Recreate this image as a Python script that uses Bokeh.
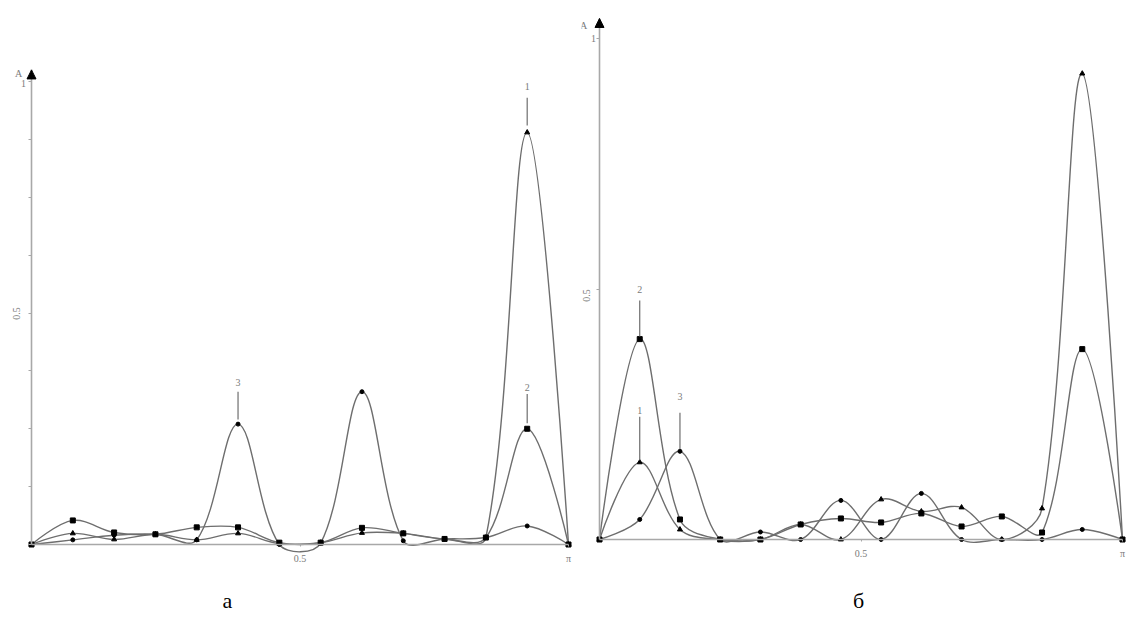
import numpy as np
from bokeh.plotting import figure
from bokeh.models import Range1d, FixedTicker, Label, Arrow, NormalHead
from bokeh.layouts import row
from bokeh.embed import file_html
from bokeh.resources import INLINE

# ---------------- data ----------------
n_nodes = 14
x_nodes = [i / 13 for i in range(n_nodes)]

# panel "а"
a_c1 = [0, 0.024, 0.011, 0.022, 0.010, 0.024, 0.002, 0.004, 0.025, 0.024, 0.012, 0.015, 0.89, 0]
a_c2 = [0, 0.052, 0.026, 0.022, 0.037, 0.037, 0.004, 0.004, 0.036, 0.024, 0.012, 0.015, 0.25, 0]
a_c3 = [0, 0.010, 0.020, 0.022, 0.010, 0.26, 0.0, 0.003, 0.33, 0.008, 0.012, 0.015, 0.04, 0]

# panel "б"
b_c1 = [0, 0.154, 0.02, 0.0, 0.0, 0.03, 0.0, 0.08, 0.056, 0.064, 0.0, 0.062, 0.93, 0]
b_c2 = [0, 0.40, 0.04, 0.0, 0.0, 0.03, 0.042, 0.034, 0.052, 0.026, 0.046, 0.014, 0.38, 0]
b_c3 = [0, 0.04, 0.176, 0.0, 0.015, 0.0, 0.078, 0.0, 0.092, 0.0, 0.0, 0.0, 0.02, 0]

# peak labels: (text, x, label y, line top, line bottom)
a_peaks = [("1", 12 / 13, 0.99, 0.965, 0.905),
           ("2", 12 / 13, 0.34, 0.325, 0.262),
           ("3", 5 / 13, 0.35, 0.33, 0.27)]
b_peaks = [("2", 1 / 13, 0.50, 0.477, 0.405),
           ("1", 1 / 13, 0.258, 0.245, 0.158),
           ("3", 2 / 13, 0.285, 0.253, 0.18)]

x_tick_labels = {0.5: "0.5", 1: "π"}
a_minor_ticks = [i * 0.125 for i in range(9)]
b_minor_ticks = [0.5, 1.0]

LINE = "#6e6e6e"
AXIS = "#a8a8a8"
TXT = "#7a7a7a"
SERIF = "Liberation Serif"


def smooth_segments(xs, ys, sx, sy, t=0.35):
    X = np.asarray(xs, float) * sx
    Y = np.asarray(ys, float) * sy
    n = len(X)
    cin = np.column_stack([X, Y]).copy()
    cout = np.column_stack([X, Y]).copy()
    for i in range(1, n - 1):
        d01 = np.hypot(X[i] - X[i - 1], Y[i] - Y[i - 1])
        d12 = np.hypot(X[i + 1] - X[i], Y[i + 1] - Y[i])
        fa = t * d01 / (d01 + d12)
        fb = t * d12 / (d01 + d12)
        dx, dy = X[i + 1] - X[i - 1], Y[i + 1] - Y[i - 1]
        cin[i] = (X[i] - fa * dx, Y[i] - fa * dy)
        cout[i] = (X[i] + fb * dx, Y[i] + fb * dy)
    return dict(x0=X[:-1] / sx, y0=Y[:-1] / sy, x1=X[1:] / sx, y1=Y[1:] / sy,
                cx0=cout[:-1, 0] / sx, cy0=cout[:-1, 1] / sy,
                cx1=cin[1:, 0] / sx, cy1=cin[1:, 1] / sy)


def make_panel(fig_left_pg, width, border_left, x0_pg, x1_pg, y0_pg, y1_pg,
               series, peaks, minor_ticks, arrow_top, texts, caption):
    height = 621
    frame_left_pg = fig_left_pg + border_left
    frame_right_pg = fig_left_pg + width
    top_pg, bottom_pg = 0, height
    sx = x1_pg - x0_pg
    sy = y0_pg - y1_pg
    xr = Range1d((frame_left_pg - x0_pg) / sx, (frame_right_pg - x0_pg) / sx)
    yr = Range1d(-(bottom_pg - y0_pg) / sy, (y0_pg - top_pg) / sy)
    p = figure(width=width, height=height, x_range=xr, y_range=yr,
               output_backend="svg", toolbar_location=None,
               min_border_left=border_left, min_border_right=0,
               min_border_top=0, min_border_bottom=0)
    p.outline_line_color = None
    p.grid.visible = False
    p.background_fill_color = "white"
    p.border_fill_color = "white"

    xa = p.xaxis[0]
    ya = p.yaxis[0]
    xa.fixed_location = 0
    ya.fixed_location = 0
    xa.bounds = (0, 1)
    ya.bounds = (0, arrow_top)
    for ax in (xa, ya):
        ax.axis_line_color = AXIS
        ax.axis_line_width = 1.6
        ax.major_tick_line_color = AXIS
        ax.minor_tick_line_color = AXIS
    xa.ticker = FixedTicker(ticks=[0.5, 1])
    xa.major_label_overrides = x_tick_labels
    xa.major_tick_in = 0
    xa.major_tick_out = 2
    xa.major_label_standoff = 6
    xa.major_label_text_font = SERIF
    xa.major_label_text_font_size = "10px"
    xa.major_label_text_color = TXT
    xa.minor_tick_out = 0
    ya.ticker = FixedTicker(ticks=[], minor_ticks=minor_ticks)
    ya.minor_tick_in = 0
    ya.minor_tick_out = 3
    ya.minor_tick_line_width = 1.2

    markers = ["triangle", "square", "circle"]
    msize = [5, 5, 4]
    for ys in series:
        seg = smooth_segments(x_nodes, ys, sx, sy)
        p.bezier(source=seg, x0="x0", y0="y0", x1="x1", y1="y1",
                 cx0="cx0", cy0="cy0", cx1="cx1", cy1="cy1",
                 line_color=LINE, line_width=1.4)
    for k, ys in enumerate(series):
        p.scatter(x_nodes, ys, marker=markers[k], size=msize[k],
                  fill_color="black", line_color="black")

    for txt, px, ly, lt, lb in peaks:
        p.segment(x0=[px], y0=[lt], x1=[px], y1=[lb], line_color=LINE, line_width=1.2)
        p.add_layout(Label(x=px, y=ly, text=txt, text_font=SERIF, text_font_size="10px",
                           text_color=TXT, text_align="center", text_baseline="middle"))

    p.add_layout(Arrow(end=NormalHead(size=9, fill_color="black", line_color="black"),
                       x_start=0, y_start=arrow_top - 0.05, x_end=0, y_end=arrow_top,
                       line_alpha=0))

    for txt, px, py, ang in texts:
        p.add_layout(Label(x=(px - x0_pg) / sx, y=(y0_pg - py) / sy, text=txt,
                           text_font=SERIF, text_font_size="10px", text_color=TXT,
                           text_align="center", text_baseline="middle", angle=ang))

    cap, cx, cy = caption
    p.add_layout(Label(x=(cx - x0_pg) / sx, y=(y0_pg - cy) / sy, text=cap,
                       text_font=SERIF, text_font_size="22px", text_color="black",
                       text_align="center", text_baseline="middle"))
    return p


pa = make_panel(0, 576, 5, 31, 568, 544, 81, [a_c1, a_c2, a_c3], a_peaks,
                a_minor_ticks, 1.025,
                [("A", 18, 73, 0), ("1", 23, 83, 0), ("0.5", 16, 313, np.pi / 2)],
                ("а", 227, 600))
pb = make_panel(576, 552, 5, 599, 1122, 539, 38, [b_c1, b_c2, b_c3], b_peaks,
                b_minor_ticks, 1.04,
                [("A", 583, 25, 0), ("1", 593, 38, 0), ("0.5", 586, 295, np.pi / 2)],
                ("б", 858, 600))

layout = row(pa, pb)
open("out.html", "w").write(file_html(layout, INLINE))
